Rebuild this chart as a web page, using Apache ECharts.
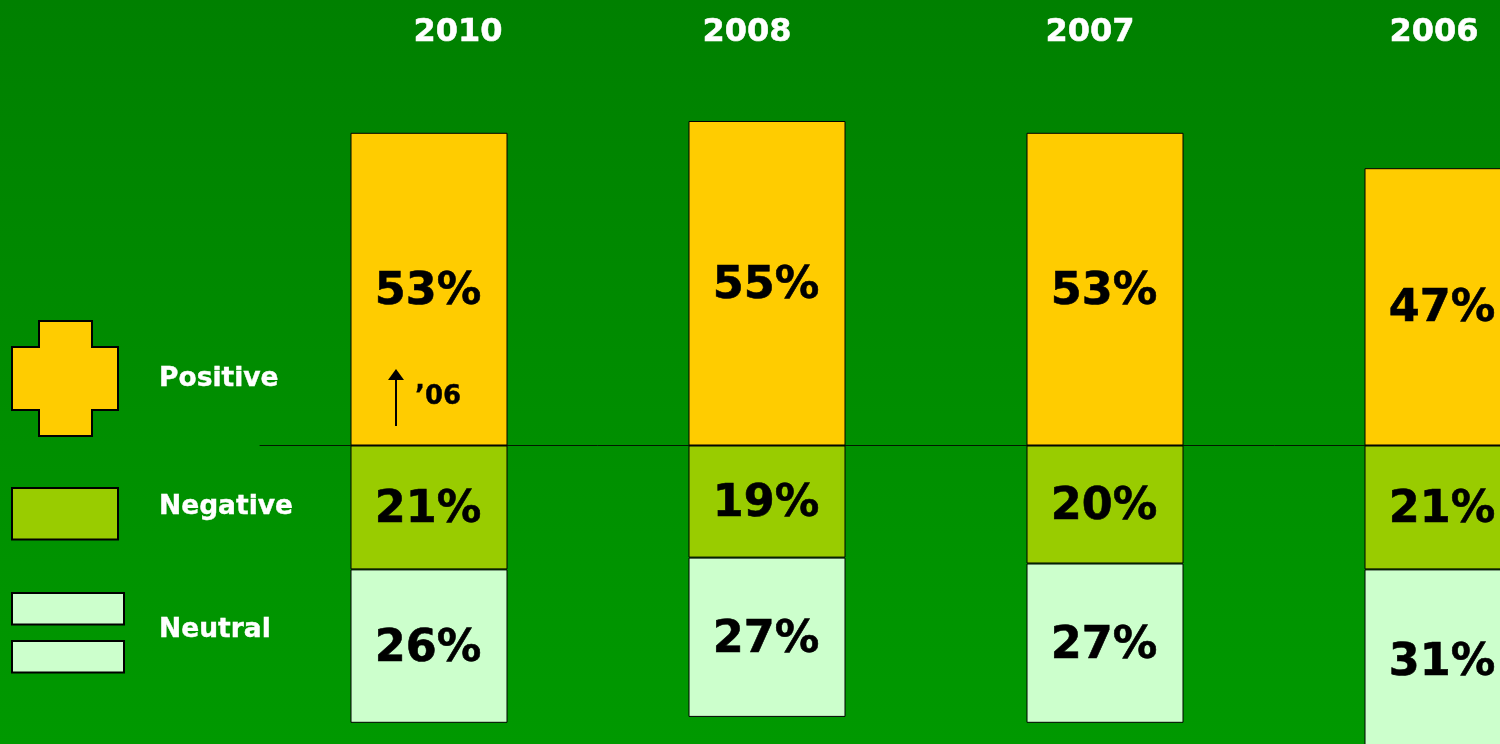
<!DOCTYPE html>
<html><head><meta charset="utf-8">
<style>html,body{margin:0;padding:0;width:1500px;height:744px;background:#008000;overflow:hidden}#c{width:1612px;height:800px}</style>
<script src="https://cdn.jsdelivr.net/npm/echarts@6/dist/echarts.min.js"></script>
</head><body><div id="c"></div>
<script>
const years = ['2010', '2008', '2007', '2006'];
const positive = [53, 55, 53, 47];
const negative = [21, 19, 20, 21];
const neutral = [26, 27, 27, 31];
const legendNames = ['Positive', 'Negative', 'Neutral'];
const yearCentres = [458, 747, 1090, 1434];
const FONT = '"DejaVu Sans", Verdana, sans-serif';
const COL = { pos: '#FFCC00', neg: '#99CC00', neu: '#CCFFCC' };

function bar(name, vals, color) {
  return {
    name, type: 'bar', stack: 'total', barWidth: 157, data: vals,
    itemStyle: { color, borderColor: '#000', borderWidth: 1 },
    label: {
      show: true, position: 'inside', offset: [-1, 3], color: '#000',
      fontFamily: FONT, fontWeight: 'bold', fontSize: 44.5,
      textBorderColor: '#000', textBorderWidth: 0.6,
      formatter: p => Math.abs(p.value) + '%'
    }
  };
}
const legendText = (text, y) => ({
  type: 'text', x: 159, y, style: { text, fill: '#fff', stroke: '#fff', lineWidth: 0.4, fontSize: 26.5, fontWeight: 'bold', fontFamily: FONT, textVerticalAlign: 'middle' }
});
const box = (x, y, width, height, fill) => ({
  type: 'rect', shape: { x, y, width, height }, style: { fill, stroke: '#000', lineWidth: 2 }
});

const chart = echarts.init(document.getElementById('c'), null, { renderer: 'canvas' });
chart.setOption({
  animation: false,
  backgroundColor: new echarts.graphic.LinearGradient(0, 0, 0, 1, [
    { offset: 0, color: '#008000' }, { offset: 0.93, color: '#009900' }, { offset: 1, color: '#009900' }
  ]),
  grid: { left: 260, right: 0, top: 91.5, bottom: 0.5 },
  xAxis: {
    type: 'category', data: years,
    axisLine: { onZero: true, lineStyle: { color: '#001a00', width: 1 } },
    axisTick: { show: false }, axisLabel: { show: false }
  },
  yAxis: { type: 'value', min: -60, max: 60, show: false, splitLine: { show: false } },
  series: [
    bar('Positive', positive, COL.pos),
    bar('Negative', negative.map(v => -v), COL.neg),
    bar('Neutral', neutral.map(v => -v), COL.neu)
  ],
  graphic: { elements: [
    ...years.map((y, i) => ({
      type: 'text', x: yearCentres[i], y: 33,
      style: { text: y, fill: '#fff', stroke: '#fff', lineWidth: 0.5, fontSize: 32, fontWeight: 'bold', fontFamily: FONT, textAlign: 'center', textVerticalAlign: 'middle' }
    })),
    { type: 'polygon', shape: { points: [[39,321],[92,321],[92,347],[118,347],[118,410],[92,410],[92,436],[39,436],[39,410],[12,410],[12,347],[39,347]] },
      style: { fill: COL.pos, stroke: '#000', lineWidth: 2 } },
    box(12, 488, 106, 51.5, COL.neg),
    box(12, 593, 112, 31.5, COL.neu),
    box(12, 641, 112, 31.5, COL.neu),
    legendText(legendNames[0], 379),
    legendText(legendNames[1], 507),
    legendText(legendNames[2], 630),
    { type: 'line', shape: { x1: 396, y1: 376, x2: 396, y2: 426 }, style: { stroke: '#000', lineWidth: 2 }, z: 10 },
    { type: 'polygon', shape: { points: [[396,369],[404,380],[388,380]] }, style: { fill: '#000' }, z: 10 },
    { type: 'text', x: 415, y: 397, z: 10, style: { text: '\u201906', fill: '#000', stroke: '#000', lineWidth: 0.4, fontSize: 26, fontWeight: 'bold', fontFamily: FONT, textVerticalAlign: 'middle' } }
  ] }
});
</script></body></html>
